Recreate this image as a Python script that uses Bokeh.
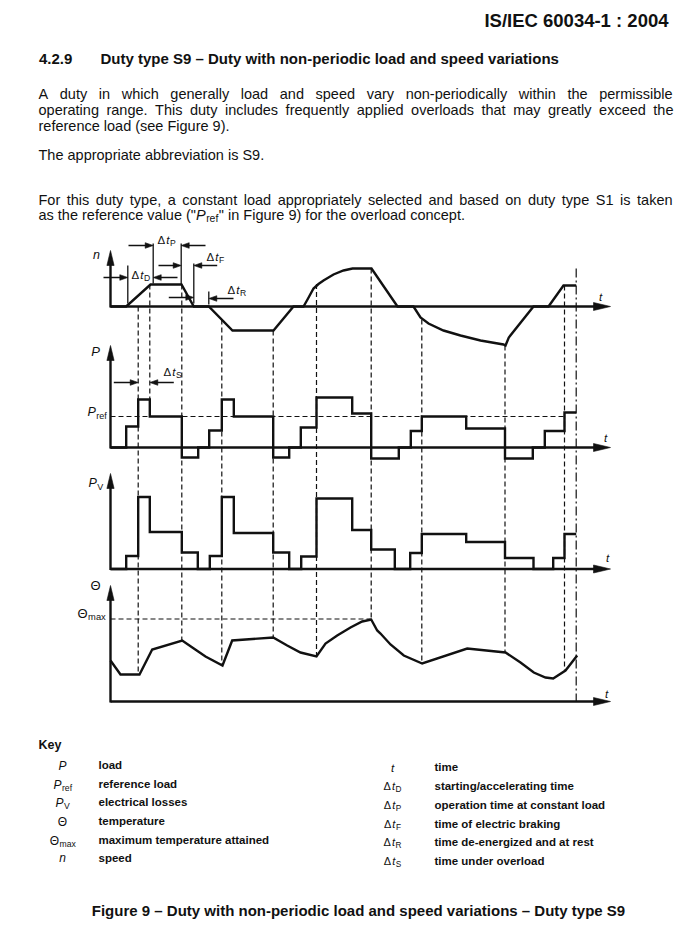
from collections import defaultdict
from bokeh.plotting import figure
from bokeh.models import Range1d
from bokeh.core.properties import value
from bokeh.embed import file_html
from bokeh.resources import INLINE

# ---------------- chart data (time in arbitrary units) ----------------
speed_t = [0, 15.7, 40, 71, 83.3, 98.3, 122, 163, 183, 193, 197, 203, 208, 213, 223, 233, 242,
           261, 287, 303, 310, 318, 333, 350, 370, 393, 395, 398.3, 423, 438, 453, 465.7]
speed_n = [0, 0, 22, 22, 0, 0, -24, -24, 0, 0, 7, 18, 22.5, 26, 32, 36, 38,
           38, 0, 0, -11, -17, -24, -29, -34, -38, -39, -31, 0, 0, 21, 21]

load_t = [0, 15.7, 27.7, 39.3, 71.3, 87.7, 98.7, 111.3, 123.3, 162.7, 178.7, 190.3, 206,
          241.7, 260.7, 288.3, 300.3, 311.3, 355.7, 394.5, 422.3, 434.3, 454, 465.7]
load_p = [0, 21, 48, 31, -10, 0, 17, 48, 31, -10, 0, 20, 50,
          34, -11, 0, 16.5, 31, 19, -11, 0, 16.5, 35, 35]
P_REF = 31

loss_t = [0, 15.7, 27.7, 39.3, 71.3, 87.3, 99.3, 111.3, 123.3, 162.7, 178.7, 190.7, 206,
          241.7, 260.7, 284.3, 299.7, 311.3, 355.7, 394.5, 423, 442.7, 454, 465.7]
loss_pv = [0, 13, 72, 37, 16.5, 0, 13, 72, 36, 16.5, 0, 12.5, 70.5,
           39, 19.5, 0, 16, 35, 27, 11, 0, 11, 35, 35]

temp_t = [0, 10, 29, 41.7, 71.7, 83.3, 95, 112, 121.7, 162.7, 176.7, 190, 206, 215, 226.7,
          240, 251.7, 260.7, 266.7, 270, 280, 293.3, 311.7, 356.7, 395, 410, 423.3, 435,
          442.7, 455, 466.7]
temp_theta = [41, 27, 27, 52, 61, 53, 45, 36, 61, 64, 56, 49, 45, 58, 66,
              74, 80, 82, 71, 68, 57, 46, 38, 53, 49, 39, 29, 24,
              23, 31, 46]
THETA_MAX = 82.5

marker_t = [27.7, 39.3, 71.3, 111.3, 162.7, 206, 260.7, 311.3, 394.5, 454]
marker_top_n = [0, 22, 22, -13, -24, 22.5, 38, -13, -39, 21]
marker_bottom = [("th", 27), ("p", 48), ("th", 61), ("th", 36), ("th", 64),
                 ("th", 45), ("th", 82), ("th", 38), ("th", 49), ("th", 31)]
END_T = 465.7
END_TOP_N = 38

# ---------------- layout (page pixels) ----------------
W, H = 676, 927
PX0, PY0, PX1, PY1 = 0, 0, W, H
X_ORIGIN = 110.0
T_SCALE = 1.0
AXIS_END_T = 500
BASE = {"n": 306.0, "p": 447.0, "pv": 568.5, "th": 701.0}
SCALE = {"n": 1.0, "p": 1.0, "pv": 1.0, "th": 1.0}
AXIS_TIP = {"n": 56, "p": 102, "pv": 95.5, "th": 116}
FONT = "Liberation Sans"
INK = "#111111"
TEXT_DY = -5


def px(t):
    return X_ORIGIN + t * T_SCALE


def py(panel, v):
    return BASE[panel] - v * SCALE[panel]


p = figure(width=W, height=H, x_range=Range1d(PX0, PX1), y_range=Range1d(PY1, PY0),
           x_axis_type=None, y_axis_type=None, toolbar_location=None,
           output_backend="svg", min_border=0, outline_line_color=None,
           background_fill_color="white", border_fill_color="white")
p.extra_x_ranges = {"t": Range1d((PX0 - X_ORIGIN) / T_SCALE, (PX1 - X_ORIGIN) / T_SCALE)}
p.extra_y_ranges = {k: Range1d((BASE[k] - PY1) / SCALE[k], (BASE[k] - PY0) / SCALE[k]) for k in BASE}

TRACE = dict(line_color=INK, line_width=2.4, line_join="miter")
DASH = dict(line_color=INK, line_width=1.2, line_dash="5 3")

# ---------------- traces ----------------
p.line(speed_t, speed_n, x_range_name="t", y_range_name="n", **TRACE)
p.step(load_t, load_p, mode="after", x_range_name="t", y_range_name="p", **TRACE)
p.step(loss_t, loss_pv, mode="after", x_range_name="t", y_range_name="pv", **TRACE)
p.line(temp_t, temp_theta, x_range_name="t", y_range_name="th", **TRACE)

# reference levels
p.line([0, marker_t[-1]], [P_REF, P_REF], x_range_name="t", y_range_name="p", **DASH)
p.line([0, marker_t[6]], [THETA_MAX, THETA_MAX], x_range_name="t", y_range_name="th", **DASH)

# vertical markers
tops = [py("n", v) for v in marker_top_n]
bots = [py(k, v) for k, v in marker_bottom]
p.segment(x0=marker_t, y0=tops, x1=marker_t, y1=bots, x_range_name="t", **DASH)
p.segment(x0=[END_T], y0=[py("n", END_TOP_N)], x1=[END_T], y1=[py("th", 0)],
          x_range_name="t", line_color=INK, line_width=1.2, line_dash="9 3 2 3")

# ---------------- axes with arrow heads ----------------
heads_x, heads_y = [], []


def head(tx, ty, dx, dy, length, half):
    bx, by = tx - dx * length, ty - dy * length
    heads_x.append([tx, bx - dy * half, bx + dy * half])
    heads_y.append([ty, by + dx * half, by - dx * half])


ax_x0, ax_y0, ax_x1, ax_y1 = [], [], [], []
for k in BASE:
    b = BASE[k]
    tip_y = py(k, AXIS_TIP[k])
    ax_x0 += [X_ORIGIN, X_ORIGIN]
    ax_y0 += [b + 1, b]
    ax_x1 += [X_ORIGIN, px(AXIS_END_T) - 8]
    ax_y1 += [tip_y + 8, b]
    head(X_ORIGIN, tip_y, 0, -1, 15, 3.6)
    head(px(AXIS_END_T), b, 1, 0, 17, 4.0)
p.segment(x0=ax_x0, y0=ax_y0, x1=ax_x1, y1=ax_y1, line_color=INK, line_width=2.4)

# ---------------- time-interval annotations ----------------
ann_vlines = [(17.3, 265, 303), (42.7, 243, 283), (70.7, 243, 284), (83.3, 263, 303), (98.3, 291, 304)]
ann_arrows = [(-7, 17.3, 277), (67, 42.7, 277),
              (18, 42.7, 245), (95, 70.7, 245),
              (48, 70.7, 265), (106.7, 83.3, 265),
              (58.3, 83.3, 297), (123, 98.3, 298),
              (3.3, 27.7, 382), (63.3, 39.3, 382)]
p.segment(x0=[v[0] for v in ann_vlines], y0=[v[1] for v in ann_vlines],
          x1=[v[0] for v in ann_vlines], y1=[v[2] for v in ann_vlines],
          x_range_name="t", line_color=INK, line_width=1.3)
for a, b, y in ann_arrows:
    xa, xb = px(a), px(b)
    d = 1 if xb > xa else -1
    p.segment(x0=[xa], y0=[y], x1=[xb - d * 6], y1=[y], line_color=INK, line_width=1.3)
    head(xb, y, d, 0, 8, 2.8)

p.patches(heads_x, heads_y, fill_color=INK, line_color=INK, line_width=0.6)

# ---------------- text ----------------
REG = {' ': 278, 'a': 556, 'b': 556, 'c': 500, 'd': 556, 'e': 556, 'f': 278, 'g': 556, 'h': 556,
       'i': 222, 'j': 222, 'k': 500, 'l': 222, 'm': 833, 'n': 556, 'o': 556, 'p': 556, 'q': 556,
       'r': 333, 's': 500, 't': 278, 'u': 556, 'v': 500, 'w': 722, 'x': 500, 'y': 500, 'z': 500,
       'A': 667, 'B': 667, 'C': 722, 'D': 722, 'E': 667, 'F': 611, 'G': 778, 'H': 722, 'I': 278,
       'J': 500, 'K': 667, 'L': 556, 'M': 833, 'N': 722, 'O': 778, 'P': 667, 'Q': 778, 'R': 722,
       'S': 667, 'T': 611, 'U': 722, 'V': 667, 'W': 944, 'X': 667, 'Y': 667, 'Z': 611,
       '.': 278, ',': 278, '-': 333, '(': 333, ')': 333, '"': 355, '/': 278, ':': 278,
       '\u2013': 556, '\u0394': 668, '\u0398': 778}
BOLD = {' ': 278, 'a': 556, 'b': 611, 'c': 556, 'd': 611, 'e': 556, 'f': 333, 'g': 611, 'h': 611,
        'i': 278, 'j': 278, 'k': 556, 'l': 278, 'm': 889, 'n': 611, 'o': 611, 'p': 611, 'q': 611,
        'r': 389, 's': 556, 't': 333, 'u': 611, 'v': 556, 'w': 778, 'x': 556, 'y': 556, 'z': 500,
        'A': 722, 'B': 722, 'C': 722, 'D': 722, 'E': 667, 'F': 611, 'I': 278, 'K': 722, 'S': 667,
        'T': 611, '.': 278, ',': 278, '-': 333, '(': 333, ')': 333, '/': 278, ':': 333, '\u2013': 556}


def tw(s, size, bold=False):
    tab = BOLD if bold else REG
    tot = 0
    for c in s:
        tot += 556 if c.isdigit() else tab.get(c, REG.get(c, 556))
    return tot * size / 1000.0


groups = defaultdict(lambda: {"x": [], "y": [], "text": []})


def add(x, y, s, size, style="normal", align="left"):
    g = groups[(round(size, 2), style, align)]
    g["x"].append(x)
    g["y"].append(y + TEXT_DY)
    g["text"].append(s)


def yb(yc, size, k=0.3):
    return yc + k * size


def justify(line, x0, x1, yc, size, bold=False):
    words = line.split(" ")
    ws = [tw(w, size, bold) for w in words]
    gap = (x1 - x0 - sum(ws)) / (len(words) - 1)
    x = x0
    for w, wd in zip(words, ws):
        add(x, yb(yc, size), w, size, "bold" if bold else "normal")
        x += wd + gap


def subbed(x, yc, main, sub, size, main_style="italic", sub_scale=0.72, center=False, sub_style="normal"):
    wm = tw(main, size, main_style == "bold")
    ws = tw(sub, size * sub_scale, sub_style == "bold")
    if center:
        x = x - (wm + ws) / 2
    base = yb(yc, size, 0.36)
    add(x, base, main, size, main_style)
    add(x + wm + 0.5, base + 0.3 * size, sub, size * sub_scale, sub_style)


def dt(x, yc, sub, size, center=False):
    w1 = tw("\u0394", size)
    w2 = tw("t", size)
    ws = tw(sub, size * 0.75)
    if center:
        x = x - (w1 + w2 + ws + 1.5) / 2
    base = yb(yc, size, 0.36)
    add(x, base, "\u0394", size)
    add(x + w1 + 1, base, "t", size, "italic")
    add(x + w1 + w2 + 1.5, base + 0.3 * size, sub, size * 0.75)


# page header and body text
add(668, yb(18, 18.5, 0.36), "IS/IEC 60034-1 : 2004", 18.5, "bold", "right")
add(38.5, yb(58, 15, 0.34), "4.2.9", 15, "bold")
add(100, yb(58, 15, 0.34), "Duty type S9 \u2013 Duty with non-periodic load and speed variations", 15, "bold")
BODY = 14.5
justify("A duty in which generally load and speed vary non-periodically within the permissible", 38, 672, 94, BODY)
justify("operating range. This duty includes frequently applied overloads that may greatly exceed the", 38, 673, 110, BODY)
add(38, yb(126, BODY), "reference load (see Figure 9).", BODY)
add(38, yb(155, BODY), "The appropriate abbreviation is S9.", BODY)
justify("For this duty type, a constant load appropriately selected and based on duty type S1 is taken", 38, 672, 200, BODY)
s1 = 'as the reference value ("'
s2 = '" in Figure 9) for the overload concept.'
x = 38
add(x, yb(215, BODY), s1, BODY)
x += tw(s1, BODY)
add(x, yb(215, BODY), "P", BODY, "italic")
x += tw("P", BODY) + 0.5
add(x, yb(215, BODY) + 3.5, "ref", BODY * 0.72)
x += tw("ref", BODY * 0.72) + 0.5
add(x, yb(215, BODY), s2, BODY)

# diagram labels
add(96, yb(256, 12.5, 0.27), "n", 12.5, "italic", "center")
add(95, yb(351, 13, 0.36), "P", 13, "italic", "center")
subbed(87, 412, "P", "ref", 12.5)
subbed(88, 483, "P", "V", 12.5)
add(95, yb(585, 13, 0.36), "\u0398", 13, "normal", "center")
subbed(77, 613, "\u0398", "max", 13, main_style="normal")
for tx, ty in [(600, 297), (605, 438), (607, 558), (606, 694)]:
    add(tx, yb(ty, 11.5, 0.36), "t", 11.5, "italic", "center")
dt(157, 240, "P", 11.5)
dt(131, 275, "D", 11.5)
dt(206, 257, "F", 11.5)
dt(227, 290, "R", 11.5)
dt(163, 372, "S", 11.5)

# key
add(38, yb(745, 12.5, 0.36), "Key", 12.5, "bold")
KEY = 11.5
left_rows = [766, 785, 803, 822, 841, 859]
right_rows = [768, 787, 806, 825, 843, 862]
add(62, yb(left_rows[0], 12, 0.36), "P", 12, "italic", "center")
subbed(62, left_rows[1], "P", "ref", 12, center=True)
subbed(62, left_rows[2], "P", "V", 12, center=True)
add(62, yb(left_rows[3], 12, 0.36), "\u0398", 12, "normal", "center")
subbed(62, left_rows[4], "\u0398", "max", 12, main_style="normal", center=True)
add(62, yb(left_rows[5], 12, 0.27), "n", 12, "italic", "center")
left_desc = ["load", "reference load", "electrical losses", "temperature",
             "maximum temperature attained", "speed"]
for yy, s in zip(left_rows, left_desc):
    add(98, yb(yy, KEY), s, KEY, "bold")
add(392, yb(right_rows[0], 11.5, 0.36), "t", 11.5, "italic", "center")
for yy, s in zip(right_rows[1:], ["D", "P", "F", "R", "S"]):
    dt(392, yy, s, 11, center=True)
right_desc = ["time", "starting/accelerating time", "operation time at constant load",
              "time of electric braking", "time de-energized and at rest", "time under overload"]
for yy, s in zip(right_rows, right_desc):
    add(434, yb(yy, KEY), s, KEY, "bold")

add(358, yb(910, 15, 0.34), "Figure 9 \u2013 Duty with non-periodic load and speed variations \u2013 Duty type S9",
    15, "bold", "center")

for (size, style, align), g in groups.items():
    p.text(x=g["x"], y=g["y"], text=g["text"], text_font=value(FONT),
           text_font_size=value(f"{size}px"), text_font_style=value(style),
           text_align=value(align), text_baseline=value("alphabetic"), text_color=INK)

open("out.html", "w").write(file_html(p, INLINE))
